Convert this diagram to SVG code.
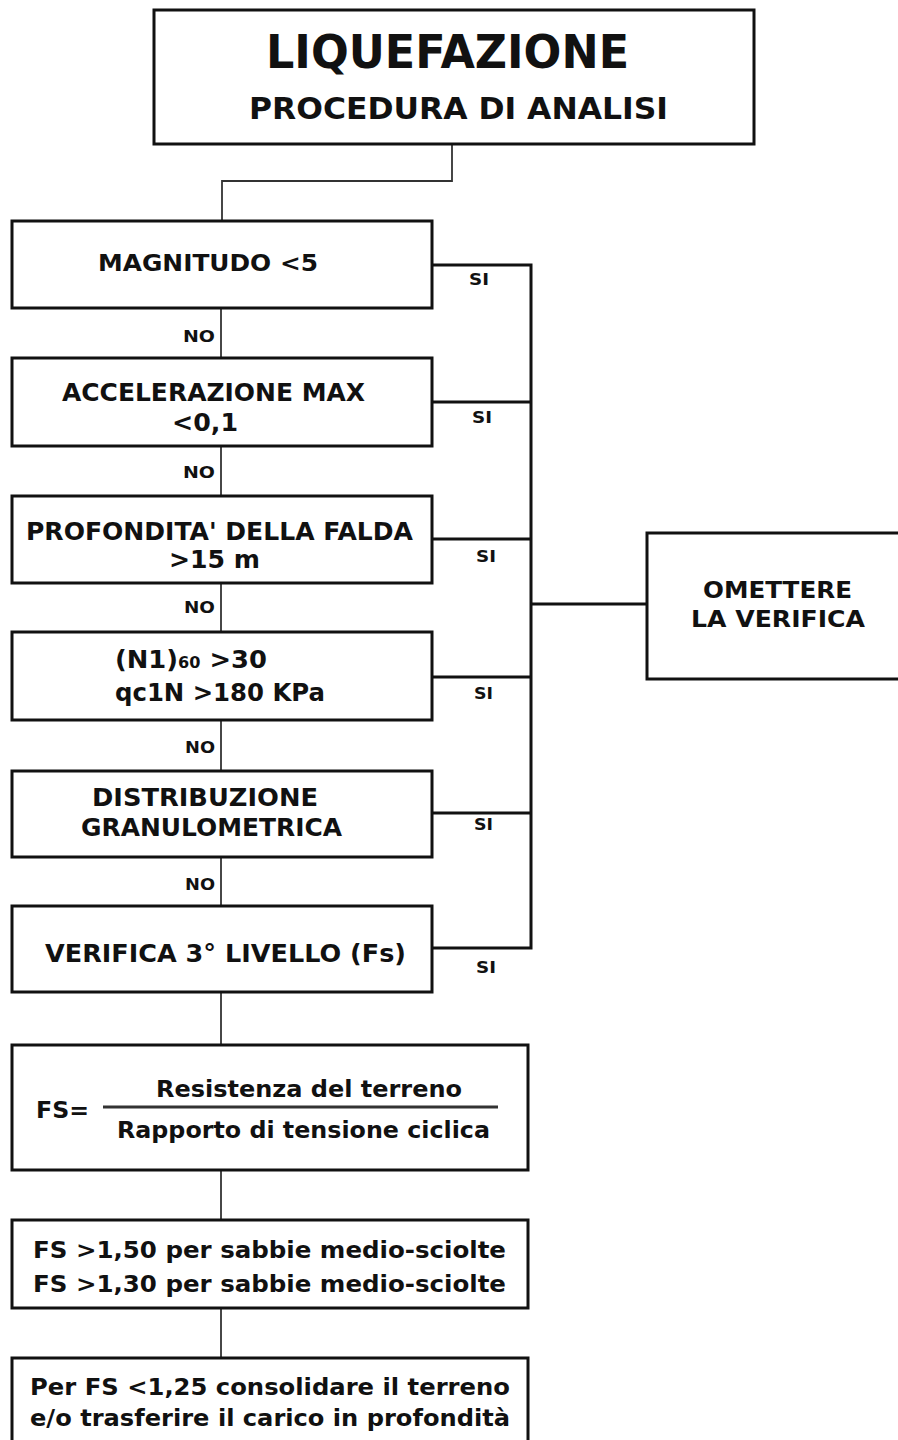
<svg xmlns="http://www.w3.org/2000/svg" width="898" height="1440" viewBox="0 0 898 1440">
<style>
.box{fill:#fff;stroke:#111;stroke-width:3}
.t{font-family:"DejaVu Sans",Verdana,sans-serif;font-weight:bold;fill:#111}
.c{text-anchor:middle}
.lbl{font-family:"DejaVu Sans",Verdana,sans-serif;font-weight:bold;fill:#111;font-size:15px}
.ln{fill:none;stroke:#111;stroke-width:3}
.thin{fill:none;stroke:#333;stroke-width:1.8}
</style>
<rect width="898" height="1440" fill="#fff"/>
<g id="connectors">
<polyline class="thin" points="452,144 452,181 222,181 222,221"/>
<line class="thin" x1="221" y1="308" x2="221" y2="358"/>
<line class="thin" x1="221" y1="446" x2="221" y2="496"/>
<line class="thin" x1="221" y1="583" x2="221" y2="632"/>
<line class="thin" x1="221" y1="720" x2="221" y2="771"/>
<line class="thin" x1="221" y1="857" x2="221" y2="906"/>
<line class="thin" x1="221" y1="992" x2="221" y2="1045"/>
<line class="thin" x1="221" y1="1170" x2="221" y2="1220"/>
<line class="thin" x1="221" y1="1308" x2="221" y2="1358"/>
<polyline class="ln" points="432,265 531,265 531,948 432,948"/>
<line class="ln" x1="432" y1="402" x2="531" y2="402"/>
<line class="ln" x1="432" y1="539" x2="531" y2="539"/>
<line class="ln" x1="432" y1="677" x2="531" y2="677"/>
<line class="ln" x1="432" y1="813" x2="531" y2="813"/>
<line class="ln" x1="531" y1="604" x2="647" y2="604"/>
<text class="lbl" x="469" y="285" textLength="20" lengthAdjust="spacingAndGlyphs">SI</text>
<text class="lbl" x="472" y="423" textLength="20" lengthAdjust="spacingAndGlyphs">SI</text>
<text class="lbl" x="476" y="562" textLength="20" lengthAdjust="spacingAndGlyphs">SI</text>
<text class="lbl" x="474" y="699" textLength="19" lengthAdjust="spacingAndGlyphs">SI</text>
<text class="lbl" x="474" y="830" textLength="19" lengthAdjust="spacingAndGlyphs">SI</text>
<text class="lbl" x="476" y="973" textLength="20" lengthAdjust="spacingAndGlyphs">SI</text>
<text class="lbl" x="183" y="342" font-size="17" textLength="32" lengthAdjust="spacingAndGlyphs">NO</text>
<text class="lbl" x="183" y="478" font-size="17" textLength="32" lengthAdjust="spacingAndGlyphs">NO</text>
<text class="lbl" x="184" y="613" font-size="17" textLength="31" lengthAdjust="spacingAndGlyphs">NO</text>
<text class="lbl" x="185" y="753" font-size="17" textLength="30" lengthAdjust="spacingAndGlyphs">NO</text>
<text class="lbl" x="185" y="890" font-size="17" textLength="30" lengthAdjust="spacingAndGlyphs">NO</text>
</g>
<g id="title">
<rect class="box" x="154" y="10" width="600" height="134"/>
<text class="t" x="266" y="68" font-size="46" textLength="363" lengthAdjust="spacingAndGlyphs">LIQUEFAZIONE</text>
<text class="t" x="249" y="119" font-size="30" textLength="419" lengthAdjust="spacingAndGlyphs">PROCEDURA DI ANALISI</text>
</g>
<g id="magnitudo">
<rect class="box" x="12" y="221" width="420" height="87"/>
<text class="t" x="98" y="271" font-size="23" textLength="220" lengthAdjust="spacingAndGlyphs">MAGNITUDO &lt;5</text>
</g>
<g id="accelerazione">
<rect class="box" x="12" y="358" width="420" height="88"/>
<text class="t" x="62" y="401" font-size="24" textLength="303" lengthAdjust="spacingAndGlyphs">ACCELERAZIONE MAX</text>
<text class="t" x="172" y="431" font-size="24" textLength="66" lengthAdjust="spacingAndGlyphs">&lt;0,1</text>
</g>
<g id="profondita">
<rect class="box" x="12" y="496" width="420" height="87"/>
<text class="t" x="26" y="540" font-size="24" textLength="387" lengthAdjust="spacingAndGlyphs">PROFONDITA' DELLA FALDA</text>
<text class="t" x="169" y="568" font-size="24" textLength="91" lengthAdjust="spacingAndGlyphs">&gt;15 m</text>
</g>
<g id="n160">
<rect class="box" x="12" y="632" width="420" height="88"/>
<text class="t" x="115" y="668" font-size="24" textLength="152" lengthAdjust="spacingAndGlyphs">(N1)<tspan font-size="15">60</tspan> &gt;30</text>
<text class="t" x="115" y="701" font-size="24" textLength="210" lengthAdjust="spacingAndGlyphs">qc1N &gt;180 KPa</text>
</g>
<g id="distribuzione">
<rect class="box" x="12" y="771" width="420" height="86"/>
<text class="t" x="92" y="806" font-size="24" textLength="226" lengthAdjust="spacingAndGlyphs">DISTRIBUZIONE</text>
<text class="t" x="81" y="836" font-size="24" textLength="261" lengthAdjust="spacingAndGlyphs">GRANULOMETRICA</text>
</g>
<g id="verifica">
<rect class="box" x="12" y="906" width="420" height="86"/>
<text class="t" x="45" y="962" font-size="24" textLength="361" lengthAdjust="spacingAndGlyphs">VERIFICA 3° LIVELLO (Fs)</text>
</g>
<g id="omettere">
<rect class="box" x="647" y="533" width="260" height="146"/>
<text class="t" x="703" y="598" font-size="23" textLength="149" lengthAdjust="spacingAndGlyphs">OMETTERE</text>
<text class="t" x="691" y="627" font-size="23" textLength="174" lengthAdjust="spacingAndGlyphs">LA VERIFICA</text>
</g>
<g id="formula">
<rect class="box" x="12" y="1045" width="516" height="125"/>
<text class="t" x="36" y="1118" font-size="23" textLength="53" lengthAdjust="spacingAndGlyphs">FS=</text>
<line x1="103" y1="1107" x2="498" y2="1107" stroke="#333" stroke-width="3"/>
<text class="t" x="156" y="1097" font-size="23" textLength="306" lengthAdjust="spacingAndGlyphs">Resistenza del terreno</text>
<text class="t" x="117" y="1138" font-size="23" textLength="373" lengthAdjust="spacingAndGlyphs">Rapporto di tensione ciclica</text>
</g>
<g id="fs-limiti">
<rect class="box" x="12" y="1220" width="516" height="88"/>
<text class="t" x="33" y="1258" font-size="23" textLength="473" lengthAdjust="spacingAndGlyphs">FS &gt;1,50 per sabbie medio-sciolte</text>
<text class="t" x="33" y="1292" font-size="23" textLength="473" lengthAdjust="spacingAndGlyphs">FS &gt;1,30 per sabbie medio-sciolte</text>
</g>
<g id="consolidare">
<rect class="box" x="12" y="1358" width="516" height="100"/>
<text class="t" x="30" y="1395" font-size="23" textLength="480" lengthAdjust="spacingAndGlyphs">Per FS &lt;1,25 consolidare il terreno</text>
<text class="t" x="30" y="1426" font-size="23" textLength="480" lengthAdjust="spacingAndGlyphs">e/o trasferire il carico in profondità</text>
</g>
</svg>
